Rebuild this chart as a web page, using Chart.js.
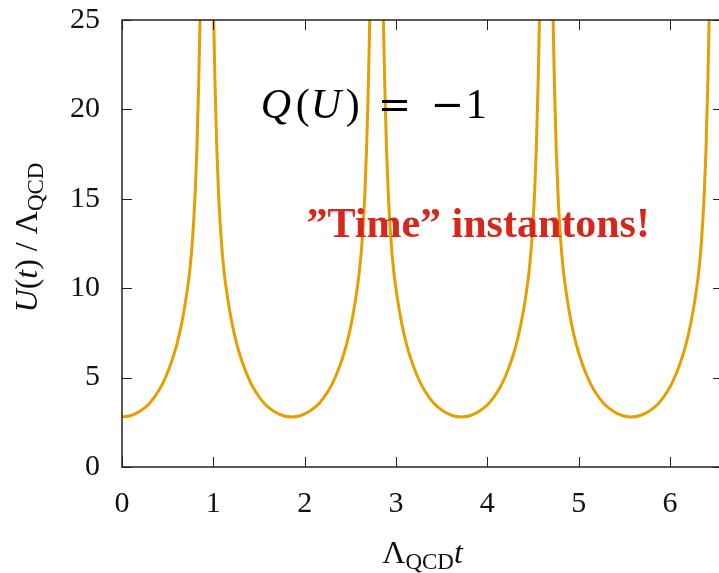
<!DOCTYPE html>
<html>
<head>
<meta charset="utf-8">
<script src="https://cdn.jsdelivr.net/npm/chart.js@4.4.1/dist/chart.umd.min.js"></script>
<style>
  html, body { margin: 0; padding: 0; background: #fff; overflow: hidden; }
  canvas { display: block; }
</style>
</head>
<body>
<canvas class="grafico" width="740" height="573"></canvas>
<script>
// Lambda_QCD t  (null = curve leaves the plot at the top)
const tValues = [
    0, 0.1, 0.2, 0.3, 0.4, 0.45, 0.5, 0.55, 0.6, 0.65, 0.7, 0.74, 0.77, 0.8, 0.82, 0.84, 0.855, 0.87, 0.929,
    0.988, 1.003, 1.018, 1.038, 1.058, 1.088, 1.118, 1.158, 1.208, 1.258, 1.308, 1.358, 1.408, 1.458, 1.558, 1.658, 1.758, 1.858,
    1.958, 2.058, 2.158, 2.258, 2.308, 2.358, 2.408, 2.458, 2.508, 2.558, 2.598, 2.628, 2.658, 2.678, 2.698, 2.713, 2.728, 2.787,
    2.846, 2.861, 2.876, 2.896, 2.916, 2.946, 2.976, 3.016, 3.066, 3.116, 3.166, 3.216, 3.266, 3.316, 3.416, 3.516, 3.616, 3.716,
    3.816, 3.916, 4.016, 4.116, 4.166, 4.216, 4.266, 4.316, 4.366, 4.416, 4.456, 4.486, 4.516, 4.536, 4.556, 4.571, 4.586, 4.645,
    4.704, 4.719, 4.734, 4.754, 4.774, 4.804, 4.834, 4.874, 4.924, 4.974, 5.024, 5.074, 5.124, 5.174, 5.274, 5.374, 5.474, 5.574,
    5.674, 5.774, 5.874, 5.974, 6.024, 6.074, 6.124, 6.174, 6.224, 6.274, 6.314, 6.344, 6.374, 6.394, 6.414, 6.429, 6.444
]
// U(t) / Lambda_QCD
const uValues = [
    2.80, 2.88, 3.13, 3.55, 4.25, 4.72, 5.30, 6.00, 6.85, 7.95, 9.40, 10.9, 12.6, 15.2, 17.8, 21.5, 25.2, 30, null,
    30, 25.2, 21.5, 17.8, 15.2, 12.6, 10.9, 9.40, 7.95, 6.85, 6.00, 5.30, 4.72, 4.25, 3.55, 3.13, 2.88, 2.80,
    2.88, 3.13, 3.55, 4.25, 4.72, 5.30, 6.00, 6.85, 7.95, 9.40, 10.9, 12.6, 15.2, 17.8, 21.5, 25.2, 30, null,
    30, 25.2, 21.5, 17.8, 15.2, 12.6, 10.9, 9.40, 7.95, 6.85, 6.00, 5.30, 4.72, 4.25, 3.55, 3.13, 2.88, 2.80,
    2.88, 3.13, 3.55, 4.25, 4.72, 5.30, 6.00, 6.85, 7.95, 9.40, 10.9, 12.6, 15.2, 17.8, 21.5, 25.2, 30, null,
    30, 25.2, 21.5, 17.8, 15.2, 12.6, 10.9, 9.40, 7.95, 6.85, 6.00, 5.30, 4.72, 4.25, 3.55, 3.13, 2.88, 2.80,
    2.88, 3.13, 3.55, 4.25, 4.72, 5.30, 6.00, 6.85, 7.95, 9.40, 10.9, 12.6, 15.2, 17.8, 21.5, 25.2, 30
]
const xTicks = [0, 1, 2, 3, 4, 5, 6]
const yTicks = [0, 5, 10, 15, 20, 25]

const chargeText = ['Q', '(', 'U', ')', '=', '−', '1']
const chargeAt = [1.52, 19.5]
const bannerText = '\u201DTime\u201D instantons!'
const bannerAt = [2.02, 12.85]

const serif = '"Liberation Serif", "DejaVu Serif", serif'
const canvas = document.querySelector('.grafico')
const ctx = canvas.getContext('2d')

function drawRuns(c, runs, x, y, center) {
    let total = 0
    runs.forEach(r => { c.font = r.font; total += c.measureText(r.text).width })
    let px = center ? x - total / 2 : x
    runs.forEach(r => {
        c.font = r.font
        c.fillText(r.text, px, y + (r.down || 0))
        px += c.measureText(r.text).width
    })
}

const decor = {
    id: 'decor',
    afterDatasetsDraw(chart) {
        const { ctx: c, chartArea: a, scales: { x, y } } = chart
        c.save()

        // frame + inward ticks on all four sides
        c.strokeStyle = '#222'
        c.lineWidth = 1
        c.beginPath()
        xTicks.forEach(v => {
            const px = Math.round(x.getPixelForValue(v)) + 0.5
            c.moveTo(px, a.bottom); c.lineTo(px, a.bottom - 10)
            c.moveTo(px, a.top); c.lineTo(px, a.top + 10)
        })
        yTicks.forEach(v => {
            const py = Math.round(y.getPixelForValue(v)) + 0.5
            c.moveTo(a.left, py); c.lineTo(a.left + 10, py)
            c.moveTo(a.right, py); c.lineTo(a.right - 10, py)
        })
        c.stroke()
        c.lineWidth = 1.5
        c.strokeRect(a.left, a.top, a.right - a.left, a.bottom - a.top)

        // axis titles
        c.fillStyle = '#111'
        c.textBaseline = 'alphabetic'
        drawRuns(c, [
            { text: 'Λ', font: '32px ' + serif },
            { text: 'QCD', font: '23px ' + serif, down: 6 },
            { text: 't', font: 'italic 32px ' + serif }
        ], (a.left + a.right) / 2, 563, true)

        c.save()
        c.translate(37, (a.top + a.bottom) / 2 - 6)
        c.rotate(-Math.PI / 2)
        drawRuns(c, [
            { text: 'U', font: 'italic 32px ' + serif },
            { text: '(', font: '32px ' + serif },
            { text: 't', font: 'italic 32px ' + serif },
            { text: ') / Λ', font: '32px ' + serif },
            { text: 'QCD', font: '23px ' + serif, down: 6 }
        ], 0, 0, true)
        c.restore()

        // Q(U) = -1
        const qx = x.getPixelForValue(chargeAt[0])
        const qy = y.getPixelForValue(chargeAt[1])
        const offs = [0, 35, 50, 85, 117, 170, 205]
        c.fillStyle = '#000'
        chargeText.forEach((s, i) => {
            if (s === '=' || s === '−') c.font = '40px "DejaVu Serif", serif'
            else if (s === 'Q' || s === 'U') c.font = 'italic 42px ' + serif
            else c.font = '42px ' + serif
            c.fillText(s, qx + offs[i], qy)
        })

        // red banner
        c.fillStyle = '#d6271c'
        c.font = 'bold 42px ' + serif
        c.fillText(bannerText, x.getPixelForValue(bannerAt[0]), y.getPixelForValue(bannerAt[1]))

        c.restore()
    }
}

const chart = new Chart(ctx, {
    type: 'line',
    data: {
        datasets: [{
            data: tValues.map((t, i) => ({ x: t, y: uValues[i] })),
            borderColor: '#E69F00',
            borderWidth: 3,
            pointRadius: 0,
            cubicInterpolationMode: 'monotone',
            spanGaps: false,
            clip: 0
        }]
    },
    options: {
        responsive: false,
        animation: false,
        layout: { padding: { top: 20, right: 17, bottom: 0, left: 0 } },
        plugins: { legend: { display: false }, tooltip: { enabled: false } },
        scales: {
            x: {
                type: 'linear',
                min: 0,
                max: 6.58,
                grid: { display: false },
                border: { display: false },
                afterBuildTicks: s => { s.ticks = xTicks.map(v => ({ value: v })) },
                afterFit: s => { s.height = 106; s.paddingLeft = 0; s.paddingRight = 0 },
                ticks: {
                    padding: 11,
                    maxRotation: 0,
                    color: '#111',
                    font: { family: serif, size: 30 }
                }
            },
            y: {
                min: 0,
                max: 25,
                grid: { display: false },
                border: { display: false },
                afterBuildTicks: s => { s.ticks = yTicks.map(v => ({ value: v })) },
                afterFit: s => { s.width = 122; s.paddingTop = 0; s.paddingBottom = 0 },
                ticks: {
                    padding: 14,
                    color: '#111',
                    font: { family: serif, size: 30 }
                }
            }
        }
    },
    plugins: [decor]
})
</script>
</body>
</html>
